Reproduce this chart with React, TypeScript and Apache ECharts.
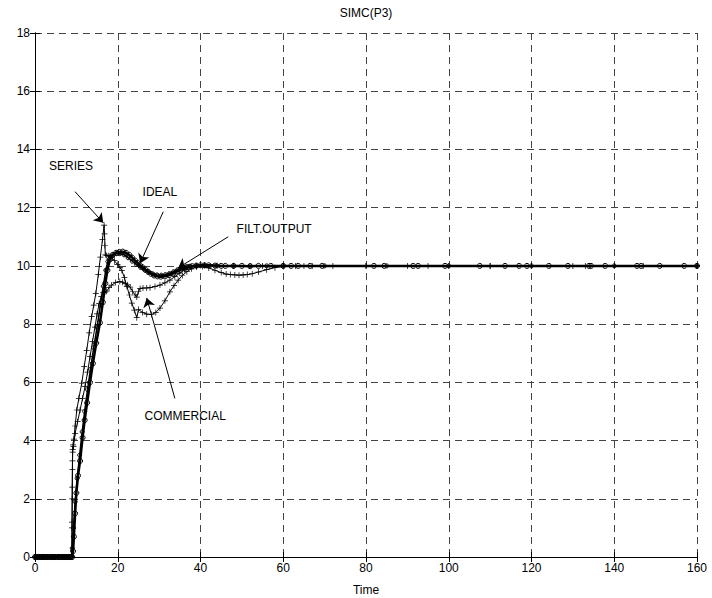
import React, { useEffect, useRef } from "react";
import * as echarts from "echarts";

const titleText = "SIMC(P3)";
const xTicks = { min: 0, max: 160, interval: 20 };
const yTicks = { min: 0, max: 18, interval: 2 };

// [time, value]
const seriesData = [
  [0, 0], [0.5, 0], [1, 0], [1.5, 0], [2, 0], [2.5, 0], [3, 0], [3.5, 0], [4, 0], [4.5, 0], [5, 0], [5.5, 0],
  [6, 0], [6.5, 0], [7, 0], [7.5, 0], [8, 0], [8.5, 0], [8.9, 0], [8.95, 1.0], [9.0, 2.0], [9.05, 3.0], [9.1, 3.7],
  [9.2, 3.85], [9.4, 4.05], [9.7, 4.5], [10.1, 5.05], [10.6, 5.45], [11.3, 5.97], [11.9, 6.55], [12.5, 7.1],
  [13.1, 7.7], [13.7, 8.26], [14.2, 8.65], [14.7, 9.05], [15.3, 9.7], [15.8, 10.3], [16.3, 10.9], [16.7, 11.4],
  [16.8, 11.1], [16.9, 10.7], [17.0, 10.38], [17.3, 10.36], [17.7, 10.35], [18.1, 10.33], [18.6, 10.28],
  [19.2, 10.18], [19.9, 10.05], [20.5, 9.95], [21.0, 9.84], [21.6, 9.6], [22.2, 9.3], [22.8, 9.0], [23.4, 8.72],
  [24.0, 8.48], [24.6, 8.22], [25.0, 8.5], [26.0, 8.4], [27.0, 8.34], [28.2, 8.33], [29.2, 8.4], [30.2, 8.55],
  [31.4, 8.8], [32.6, 9.11], [33.6, 9.32], [34.6, 9.51], [35.6, 9.67], [36.7, 9.8], [37.8, 9.9], [39.0, 9.96],
  [40.5, 9.98], [42.0, 9.93], [43.5, 9.85], [45.0, 9.77], [46.2, 9.72], [47.2, 9.7], [48.3, 9.69], [49.3, 9.68],
  [50.3, 9.69], [51.3, 9.7], [52.5, 9.73], [54.0, 9.79], [56.0, 9.87], [58.0, 9.94], [60.0, 9.98], [63, 10],
  [67, 10], [72, 10], [80, 10], [90, 10], [100, 10], [110, 10], [120, 10], [133, 10], [140, 10], [147, 10], [160, 10],
];

const commercialData = [
  [0, 0], [0.6, 0], [1.2, 0], [1.8, 0], [2.4, 0], [3, 0], [3.6, 0], [4.2, 0], [4.8, 0], [5.4, 0], [6, 0],
  [6.6, 0], [7.2, 0], [7.8, 0], [8.4, 0], [8.9, 0], [8.95, 1.2], [9.0, 2.4], [9.05, 3.3], [9.1, 3.6],
  [9.3, 3.8], [9.7, 4.25], [10.3, 4.65], [10.9, 5.05], [11.5, 5.45], [12.1, 5.85], [12.7, 6.35], [13.3, 6.88],
  [13.9, 7.4], [14.5, 7.9], [15.0, 8.35], [15.5, 8.7], [16.0, 8.95], [16.5, 9.08], [16.9, 9.1], [17.3, 9.13],
  [17.9, 9.25], [18.5, 9.34], [19.5, 9.43], [20.5, 9.46], [21.2, 9.44], [21.8, 9.4], [22.4, 9.35], [23.0, 9.27],
  [23.6, 9.12], [24.2, 9.0], [24.6, 8.93], [25.0, 9.12], [25.4, 9.22], [26.1, 9.24], [27.0, 9.24], [27.8, 9.25],
  [29.0, 9.29], [30.2, 9.34], [31.4, 9.42], [32.6, 9.51], [33.8, 9.63], [35.0, 9.75], [36.2, 9.87], [37.5, 9.96],
  [39.0, 10.0], [41.0, 10.02], [44.0, 10.01], [48.0, 10.0], [55.0, 10.0], [65.0, 10.0], [80.0, 10.0],
  [95.0, 10.0], [110.0, 10.0], [130.0, 10.0], [160.0, 10.0],
];

const idealData = [
  [0, 0], [0.4, 0], [0.8, 0], [1.2, 0], [1.6, 0], [2.0, 0], [2.4, 0], [2.8, 0], [3.2, 0], [3.6, 0], [4.0, 0],
  [4.4, 0], [4.8, 0], [5.2, 0], [5.6, 0], [6.0, 0], [6.4, 0], [6.8, 0], [7.2, 0], [7.6, 0], [8.0, 0], [8.4, 0],
  [8.8, 0], [9.0, 0], [9.2, 0.2], [9.4, 0.7], [9.7, 1.5], [10.0, 2.2], [10.4, 2.8], [10.9, 3.3], [11.5, 4.1],
  [12.0, 4.7], [12.6, 5.3], [13.3, 6.0], [14.0, 6.65], [14.8, 7.35], [15.7, 8.05], [16.4, 8.75], [17.0, 9.4],
  [17.5, 9.85], [18.1, 10.22], [18.8, 10.38], [19.6, 10.45], [20.4, 10.48], [21.2, 10.49], [22.0, 10.45],
  [22.8, 10.38], [23.5, 10.28], [24.2, 10.18], [24.8, 10.1], [25.4, 10.02], [26.0, 9.95], [26.7, 9.87],
  [27.3, 9.8], [28.0, 9.73], [28.8, 9.67], [29.6, 9.64], [30.4, 9.63], [31.4, 9.64], [32.4, 9.68], [33.4, 9.74],
  [34.3, 9.81], [35.2, 9.87], [36.1, 9.92], [37.0, 9.96], [38.0, 9.99], [39.0, 10.01], [40.0, 10.02],
  [41.0, 10.02], [42.0, 10.02], [43.5, 10.01], [45.0, 10.0], [46.0, 10.0], [48.0, 10.0], [50.0, 10.0],
  [52.0, 9.99], [54.0, 10.0], [57.0, 10.0], [60.0, 10.0], [61.9, 10.0], [63.6, 10.0], [66.5, 10.0], [69.4, 10.0],
  [81.9, 10.0], [84.4, 10.0], [91.4, 10.0], [92.6, 10.0], [99.1, 10.0], [107.5, 10.0], [113.6, 10.0],
  [117.0, 10.0], [118.9, 10.0], [124.2, 10.0], [128.8, 10.0], [133.9, 10.0], [134.4, 10.0], [137.8, 10.0],
  [145.5, 10.0], [146.5, 10.0], [151.0, 10.0], [156.9, 10.0], [160.0, 10.0],
];

const filtData = [
  [0, 0], [0.7, 0], [1.4, 0], [2.1, 0], [2.8, 0], [3.5, 0], [4.2, 0], [4.9, 0], [5.6, 0], [6.3, 0], [7.0, 0],
  [7.7, 0], [8.4, 0], [8.8, 0], [9.0, 0.3], [9.3, 1.0], [9.7, 1.9], [10.2, 2.7], [10.8, 3.5], [11.4, 4.3],
  [12.0, 5.0], [12.7, 5.75], [13.4, 6.45], [14.2, 7.2], [15.0, 7.9], [15.8, 8.65], [16.5, 9.3], [17.1, 9.85],
  [17.6, 10.15], [18.2, 10.3], [18.9, 10.38], [19.7, 10.42], [20.5, 10.42], [21.5, 10.38], [22.5, 10.28],
  [23.5, 10.16], [24.5, 10.05], [25.5, 9.95], [26.5, 9.86], [27.5, 9.78], [28.5, 9.72], [29.5, 9.69],
  [30.5, 9.68], [31.5, 9.7], [32.5, 9.74], [33.5, 9.8], [34.5, 9.87], [35.5, 9.93], [36.5, 9.97], [37.5, 9.99],
  [39.0, 10.0], [41.0, 10.01], [44.0, 10.0], [48.0, 10.0], [52.0, 10.0], [56.0, 10.0], [60.0, 10.0],
  [70.0, 10.0], [85.0, 10.0], [100.0, 10.0], [120.0, 10.0], [140.0, 10.0], [160.0, 10.0],
];

// annotation labels: [name, x, y] and arrows [x1, y1, x2, y2] in data units
const labelSeries = ["SERIES", 8.7, 13.43];
const arrowSeries = [9.67, 12.55, 16.5, 11.48];
const labelIdeal = ["IDEAL", 30.2, 12.55];
const arrowIdeal = [31.0, 11.86, 25.4, 10.09];
const labelFilt = ["FILT.OUTPUT", 57.8, 11.26];
const arrowFilt = [46.7, 11.0, 34.6, 9.93];
const labelCommercial = ["COMMERCIAL", 36.3, 4.84];
const arrowCommercial = [33.8, 5.45, 27.0, 8.9];

const FONT = "Liberation Sans, Arial, Helvetica, sans-serif";
const PLUS = "path://M4.4,0h1.2v10h-1.2zM0,4.4h10v1.2h-10z";

function annotations(label: any[], arrow: number[]) {
  return {
    markPoint: {
      silent: true,
      symbol: "circle",
      symbolSize: 0,
      data: [
        {
          name: label[0],
          coord: [label[1], label[2]],
          label: { show: true, formatter: label[0], color: "#000", fontSize: 12, fontFamily: FONT, position: "inside" },
        },
      ],
    },
    markLine: {
      silent: true,
      symbol: ["none", "arrow"],
      symbolSize: 9,
      label: { show: false },
      lineStyle: { color: "#000", width: 1, type: "solid" },
      data: [[{ coord: [arrow[0], arrow[1]] }, { coord: [arrow[2], arrow[3]] }]],
    },
  };
}

export default function App() {
  const ref = useRef<HTMLDivElement>(null);
  useEffect(() => {
    if (!ref.current) return;
    const chart = echarts.init(ref.current, undefined, { renderer: "svg" });
    const axisCommon = {
      type: "value" as const,
      axisLine: { show: true, lineStyle: { color: "#000", width: 1 } },
      axisTick: { show: true, inside: true, length: 5, lineStyle: { color: "#000" } },
    };
    const option: any = {
      animation: false,
      backgroundColor: "#fff",
      graphic: [
        {
          type: "text",
          x: 366,
          y: 13,
          style: { text: titleText, fill: "#000", font: `12px ${FONT}`, textAlign: "center", textVerticalAlign: "middle" },
        },
      ],
      grid: { left: 35, right: 15, top: 33, bottom: 41, containLabel: false, outerBoundsMode: "none" },
      xAxis: [
        {
          ...axisCommon,
          position: "bottom",
          ...xTicks,
          name: "Time",
          nameLocation: "middle",
          nameGap: 27,
          nameTextStyle: { color: "#000", fontSize: 12, fontFamily: FONT },
          axisLabel: { color: "#000", fontSize: 12, fontFamily: FONT, margin: 5 },
          splitLine: { show: true, lineStyle: { color: "#444", width: 1, type: [7, 5] } },
        },
        {
          ...axisCommon,
          position: "top",
          ...xTicks,
          axisLabel: { show: false },
          splitLine: { show: false },
        },
      ],
      yAxis: [
        {
          ...axisCommon,
          position: "left",
          ...yTicks,
          axisLabel: { color: "#000", fontSize: 12, fontFamily: FONT, margin: 5 },
          splitLine: { show: true, lineStyle: { color: "#444", width: 1, type: [7, 5] } },
        },
        {
          ...axisCommon,
          position: "right",
          ...yTicks,
          axisLabel: { show: false },
          splitLine: { show: false },
        },
      ],
      series: [
        {
          name: "SERIES",
          type: "line",
          data: seriesData,
          symbol: PLUS,
          symbolSize: 6,
          showAllSymbol: true,
          lineStyle: { color: "#000", width: 1 },
          itemStyle: { color: "#000" },
          ...annotations(labelSeries, arrowSeries),
        },
        {
          name: "COMMERCIAL",
          type: "line",
          data: commercialData,
          symbol: PLUS,
          symbolSize: 6,
          showAllSymbol: true,
          lineStyle: { color: "#000", width: 1 },
          itemStyle: { color: "#000" },
          ...annotations(labelCommercial, arrowCommercial),
        },
        {
          name: "FILT.OUTPUT",
          type: "line",
          data: filtData,
          symbol: "circle",
          symbolSize: 4,
          showAllSymbol: true,
          lineStyle: { color: "#000", width: 1.5 },
          itemStyle: { color: "transparent", borderColor: "#000", borderWidth: 1 },
          ...annotations(labelFilt, arrowFilt),
        },
        {
          name: "IDEAL",
          type: "line",
          data: idealData,
          symbol: "circle",
          symbolSize: 5,
          showAllSymbol: true,
          lineStyle: { color: "#000", width: 2.5 },
          itemStyle: { color: "transparent", borderColor: "#000", borderWidth: 1 },
          ...annotations(labelIdeal, arrowIdeal),
        },
      ],
    };
    chart.setOption(option);
    return () => chart.dispose();
  }, []);
  return (
    <div
      ref={ref}
      style={{ position: "fixed", left: 0, top: 0, width: 712, height: 598, background: "#fff" }}
    />
  );
}
